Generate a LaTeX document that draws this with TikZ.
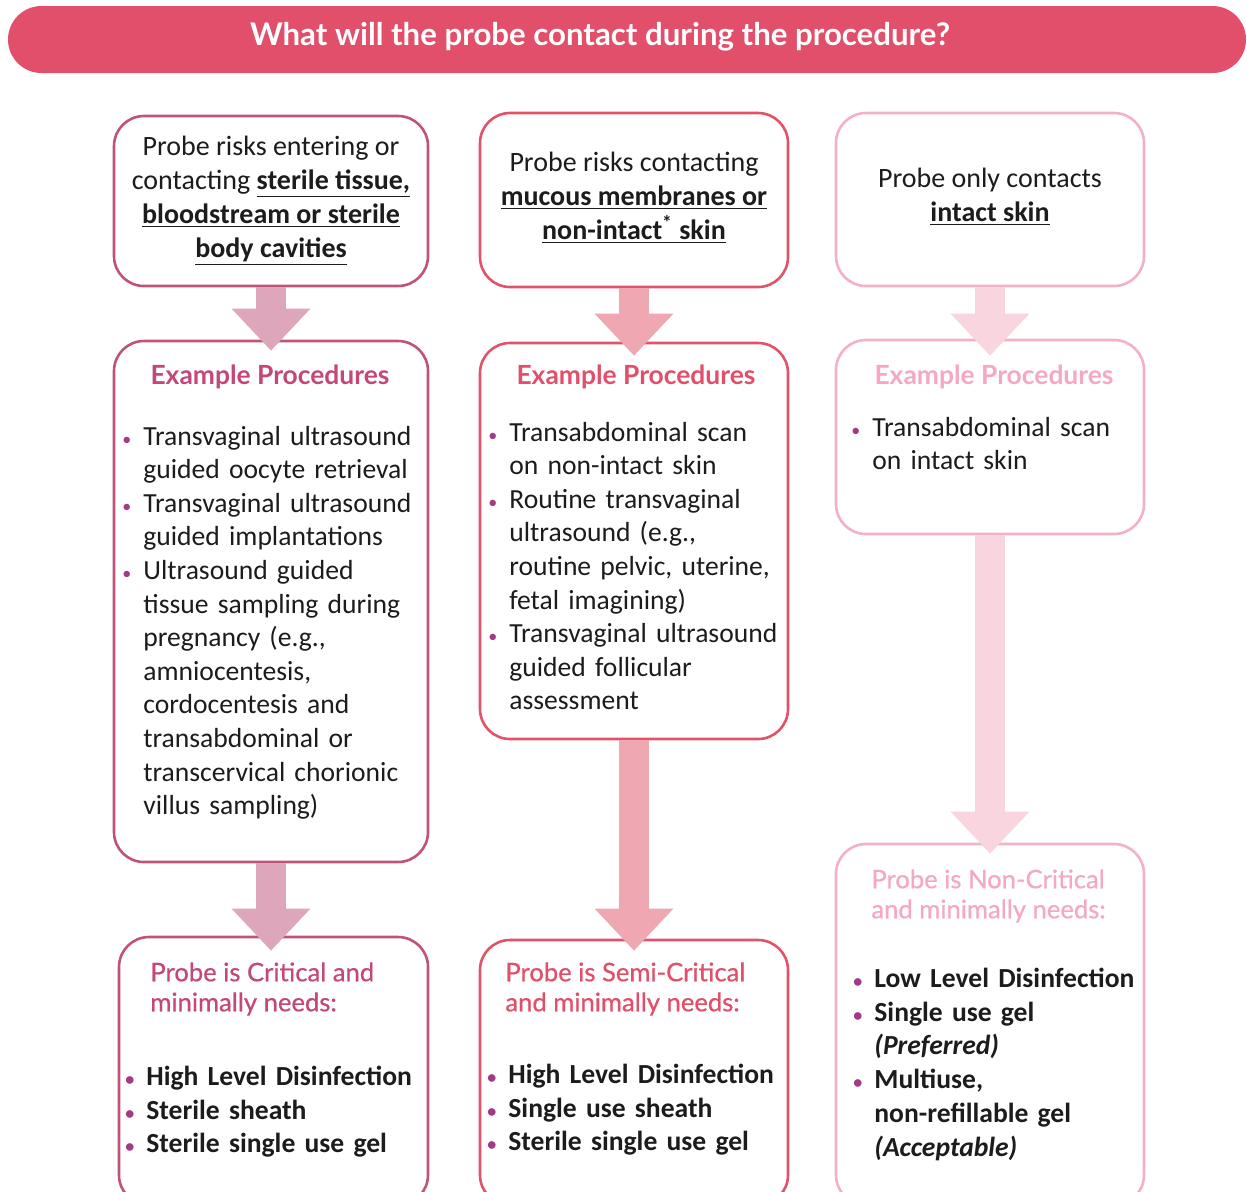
\documentclass[tikz,border=0pt]{standalone}
\usepackage{fontspec}
\setmainfont{Carlito}
\newfontfamily\headfam{Lato}
\newfontfamily\needsfam[BoldFont={Lato}, BoldFeatures={FakeBold=0.6}]{Lato}
\usepackage{enumitem}
\usetikzlibrary{arrows.meta}
\usetikzlibrary{calc}
\definecolor{hdrred}{HTML}{E14F6B}
\definecolor{critline}{HTML}{C1537A}
\definecolor{crithead}{HTML}{C4477A}
\definecolor{critarrow}{HTML}{DDA6BA}
\definecolor{semiline}{HTML}{E2536A}
\definecolor{semihead}{HTML}{E14F6B}
\definecolor{semiarrow}{HTML}{EFA7B1}
\definecolor{nonline}{HTML}{F4B0C8}
\definecolor{nonhead}{HTML}{F5A8C4}
\definecolor{nonarrow}{HTML}{F9D5E0}
\definecolor{bulpurple}{HTML}{A23B86}
\definecolor{ink}{HTML}{1C1C1C}
\newcommand\riskfont{\fontsize{14}{17}\selectfont}
\newcommand\stepfont{\fontsize{13.8}{16.8}\selectfont}
\newcommand\headingfont{\headfam\bfseries\fontsize{13.2}{15}\selectfont}
\newcommand\needsfont{\needsfam\bfseries\fontsize{12.8}{15}\selectfont}
\newcommand\kitfont{\bfseries\fontsize{13.8}{16.9}\selectfont}
\newcommand\ul[1]{\textbf{\underline{#1}}}
\setlist[itemize]{nosep, label={\textcolor{bulpurple}{\fontsize{9}{9}\selectfont\textbullet}}, leftmargin=10pt, labelsep=6pt}
\tikzset{
    every node/.append style={inner sep=0pt, text=ink},
    box/.style={draw=#1, line width=1.3pt, rounded corners=15pt, fill=white},
    boxsize/.style 2 args={minimum width=#1, minimum height=#2},
    flow/.style={draw=#1, line width=15pt, -{Triangle[width=38pt,length=21pt]}},
    risk/.style={align=center, font=\riskfont},
    heading/.style={font=\headingfont, text=#1},
    needs/.style={anchor=north west, align=left, font=\needsfont, text=#1},
    steps/.style={anchor=north west, text width=160pt, align=left, font=\stepfont},
    kit/.style={anchor=north west, text width=160pt, align=left, font=\kitfont},
    x=0.5pt, y=-0.5pt
}

\begin{document}
\begin{tikzpicture}
\useasboundingbox (0,0) rectangle (1247,1191);
\fill[white] (0,0) rectangle (1247,1191);
\clip (0,0) rectangle (1247,1191);

% header
\node[fill=hdrred, rounded corners=16.75pt, minimum width=619pt, minimum height=33.5pt] (hdr) at (627,39.5) {};
\node[font=\headfam\bfseries\fontsize{15.6}{17}\selectfont, text=white] (hdrtext) at (600,37) {What will the probe contact during the procedure?};

% boxes
\node[box=critline, boxsize={157pt}{85pt}] (c1top) at (271,201) {};
\node[box=critline, boxsize={157pt}{260.5pt}] (c1mid) at (271,601.5) {};
\node[box=critline, boxsize={154.5pt}{134pt}] (c1bot) at (273.5,1071) {};
\node[box=semiline, boxsize={154pt}{87pt}] (c2top) at (634,200) {};
\node[box=semiline, boxsize={154pt}{198pt}] (c2mid) at (634,541) {};
\node[box=semiline, boxsize={154pt}{132.5pt}] (c2bot) at (634,1072.5) {};
\node[box=nonline, boxsize={154pt}{86.5pt}] (c3top) at (990,199.5) {};
\node[box=nonline, boxsize={154pt}{97pt}] (c3mid) at (990,437) {};
\node[box=nonline, boxsize={154pt}{180.5pt}] (c3bot) at (990,1024.5) {};

% arrows
\draw[flow=critarrow] (c1top.south) -- ($(c1top.south |- c1mid.north)+(0,11)$);
\draw[flow=critarrow] (c1mid.south) -- ($(c1mid.south |- c1bot.north)+(0,15)$);
\draw[flow=semiarrow] (c2top.south) -- ($(c2top.south |- c2mid.north)+(0,14)$);
\draw[flow=semiarrow] (c2mid.south) -- ($(c2mid.south |- c2bot.north)+(0,12)$);
\draw[flow=nonarrow] (c3top.south) -- ($(c3top.south |- c3mid.north)+(0,17)$);
\draw[flow=nonarrow] (c3mid.south) -- ($(c3mid.south |- c3bot.north)+(0,11)$);

% top texts
\node[risk] (c1risk) at (271,201) {Probe risks entering or\\ contacting \ul{sterile tissue,}\\ \ul{bloodstream or sterile}\\ \ul{body cavities}};
\node[risk] (c2risk) at (634,198) {Probe risks contacting\\ \ul{mucous membranes or}\\ \ul{non-intact\textsuperscript{*} skin}};
\node[risk] (c3risk) at (990,197) {Probe only contacts\\ \ul{intact skin}};

% example procedures
\node[heading=crithead] (c1head) at (270,377) {Example Procedures};
\node[heading=semihead] (c2head) at (636,377) {Example Procedures};
\node[heading=nonhead] (c3head) at (994,377) {Example Procedures};
\node[steps] (c1steps) at (123,411) {\begin{itemize}
\item Transvaginal ultrasound\\ guided oocyte retrieval
\item Transvaginal ultrasound\\ guided implantations
\item Ultrasound guided\\ tissue sampling during\\ pregnancy (e.g.,\\ amniocentesis,\\ cordocentesis and\\ transabdominal or\\ transcervical chorionic\\ villus sampling)
\end{itemize}};
\node[steps] (c2steps) at (489,407) {\begin{itemize}
\item Transabdominal scan\\ on non-intact skin
\item Routine transvaginal\\ ultrasound (e.g.,\\ routine pelvic, uterine,\\ fetal imagining)
\item Transvaginal ultrasound\\ guided follicular\\ assessment
\end{itemize}};
\node[steps] (c3steps) at (852,402) {\begin{itemize}
\item Transabdominal scan\\ on intact skin
\end{itemize}};

% minimal needs
\node[needs=crithead] (c1needs) at (150,962) {Probe is Critical and\\ minimally needs:};
\node[needs=semihead] (c2needs) at (505,962) {Probe is Semi-Critical\\ and minimally needs:};
\node[needs=nonhead] (c3needs) at (871,869) {Probe is Non-Critical\\ and minimally needs:};
\node[kit] (c1kit) at (126,1051) {\begin{itemize}
\item High Level Disinfection
\item Sterile sheath
\item Sterile single use gel
\end{itemize}};
\node[kit] (c2kit) at (488,1049) {\begin{itemize}
\item High Level Disinfection
\item Single use sheath
\item Sterile single use gel
\end{itemize}};
\node[kit] (c3kit) at (854,953) {\begin{itemize}
\item Low Level Disinfection
\item Single use gel\\ \textit{(Preferred)}
\item Multiuse,\\ non-refillable gel\\ \textit{(Acceptable)}
\end{itemize}};
\end{tikzpicture}
\end{document}
